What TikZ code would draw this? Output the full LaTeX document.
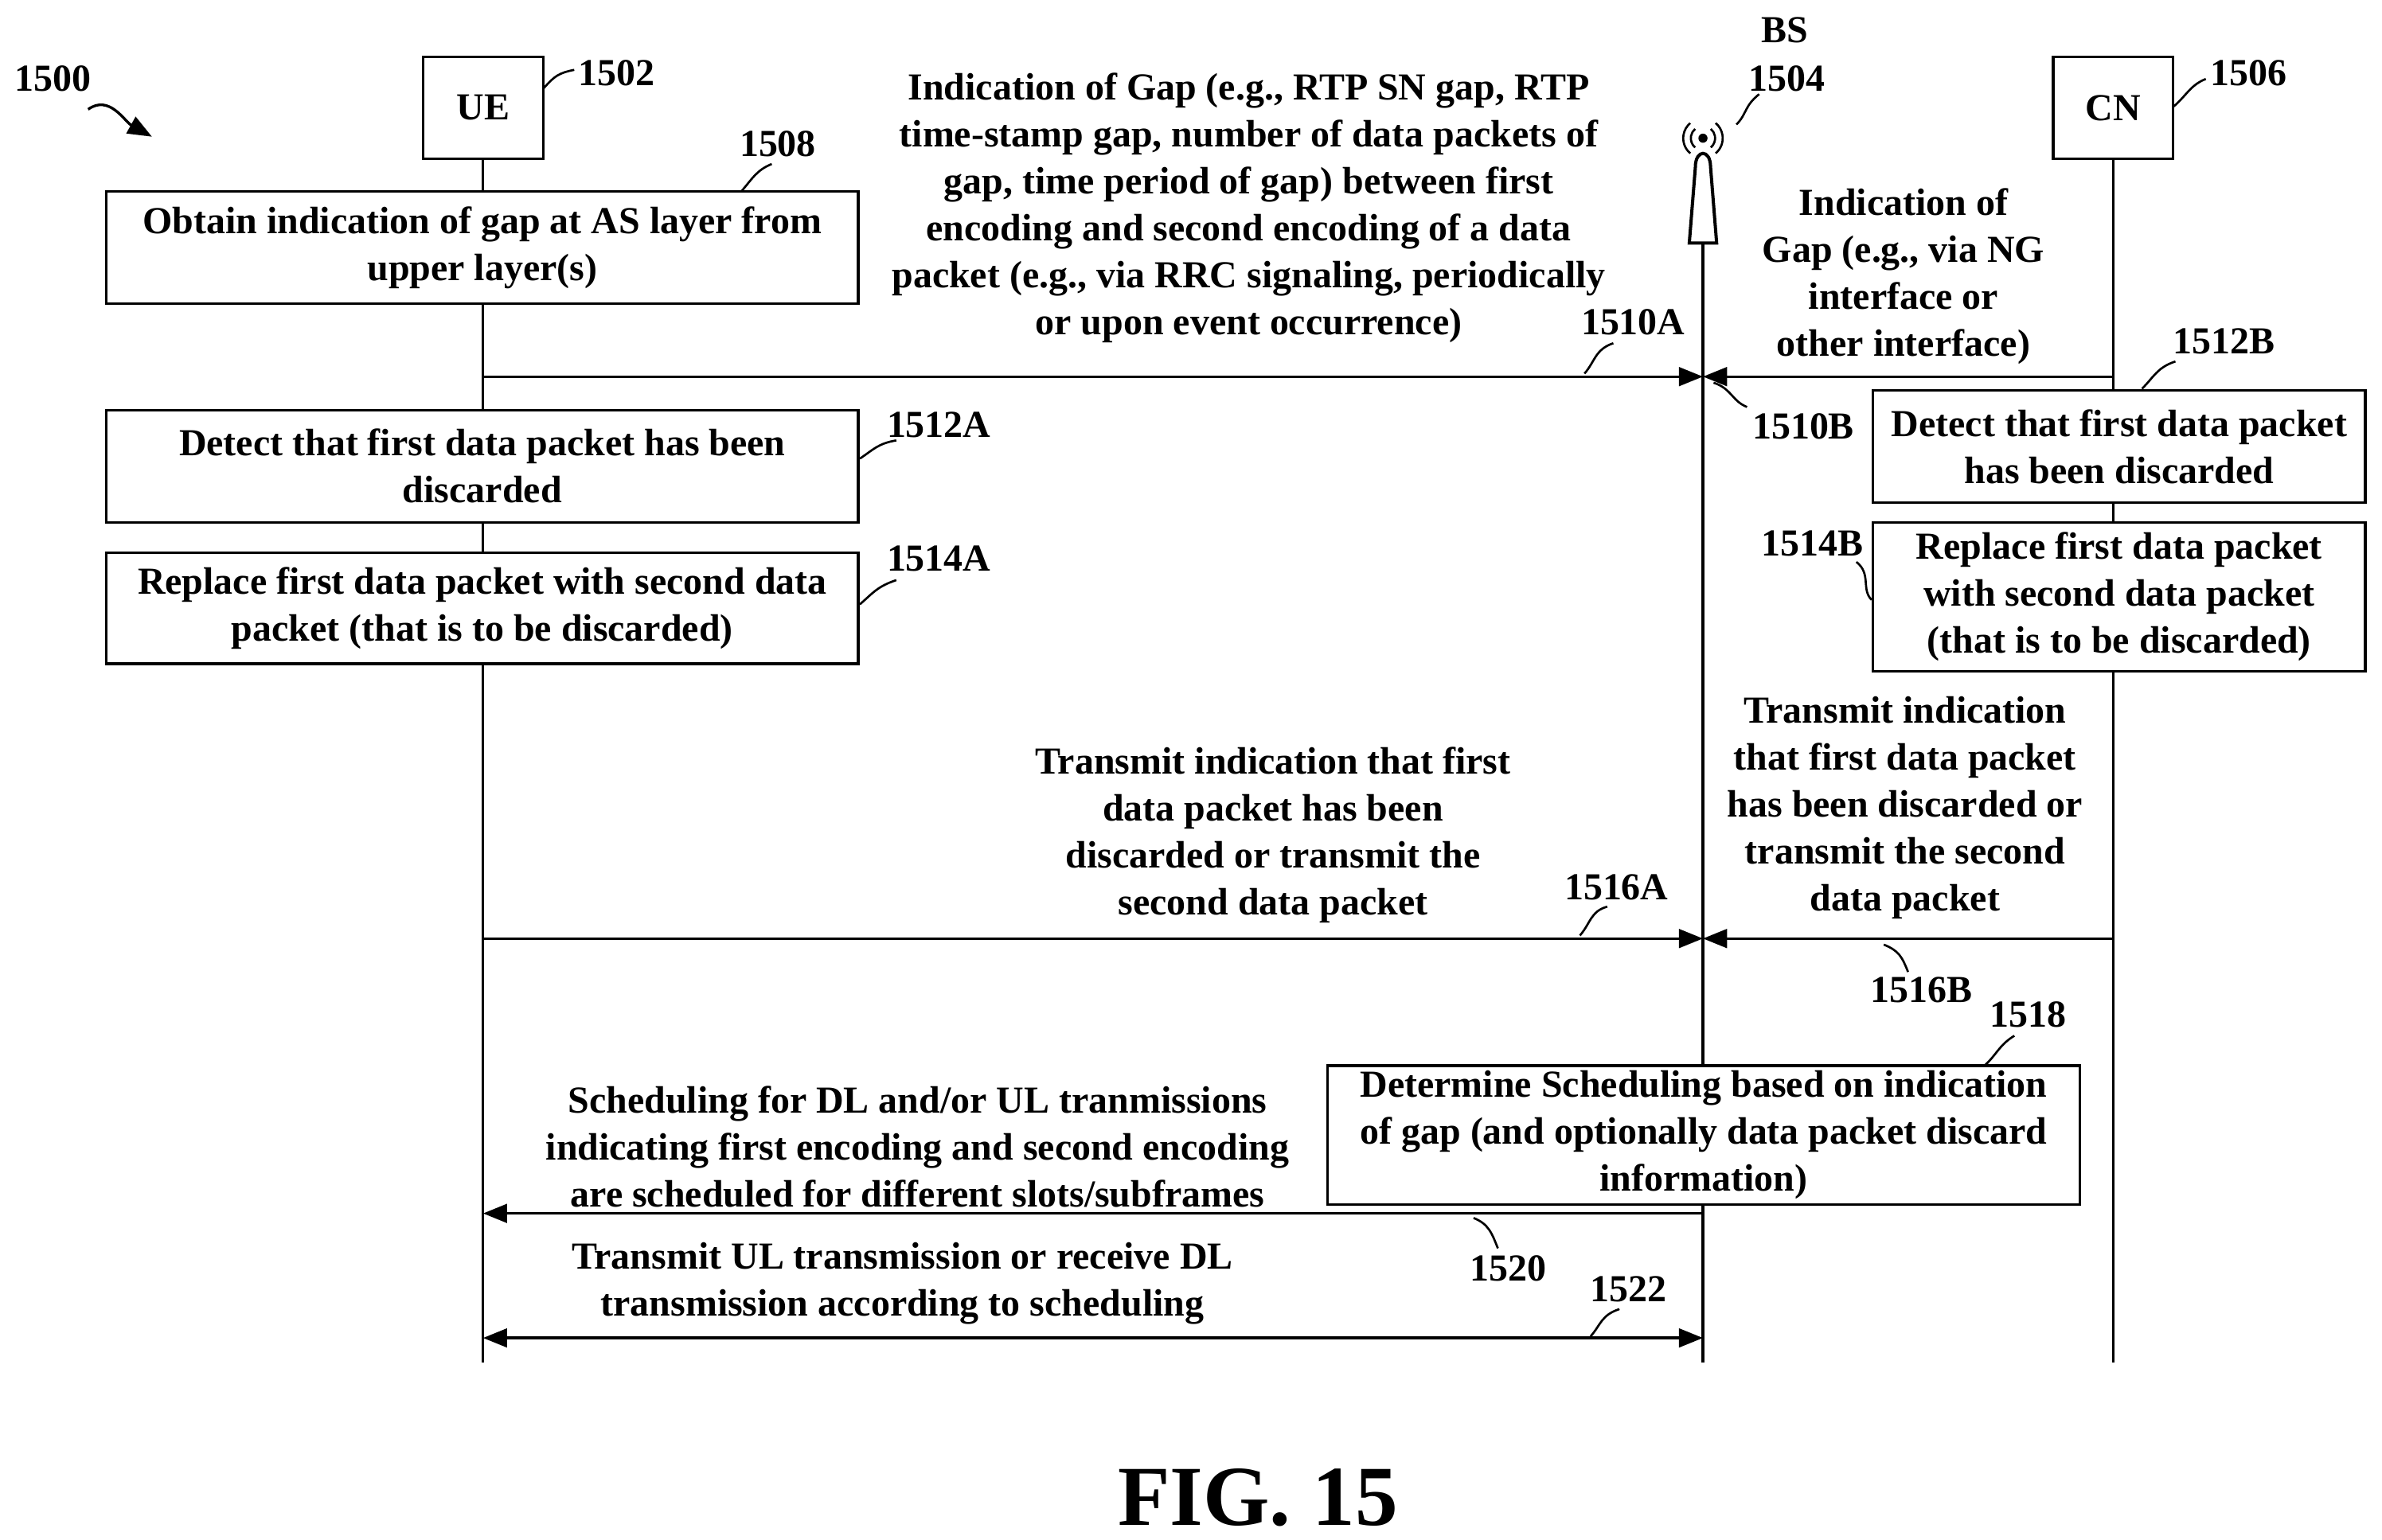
\documentclass[tikz,border=0pt]{standalone}
\usepackage{fontspec}
\setmainfont{Liberation Serif}
\usetikzlibrary{arrows.meta}
\begin{document}
\begin{tikzpicture}[x=0.02cm,y=-0.02cm,>={Triangle[length=9pt,width=7pt]},
  font=\bfseries\fontsize{14.3}{17.6}\selectfont,
  box/.style={draw,line width=1pt,align=center,inner sep=2pt},
  txt/.style={align=center,inner sep=0pt},
  msg/.style={line width=1pt},
  life/.style={line width=1pt},
  lbl/.style={inner sep=1pt}]
\useasboundingbox (0,0) rectangle (1568,1014);
% entities
\node[box,minimum width=79*0.02cm,minimum height=67*0.02cm] (ue) at (318,71) {UE};
\node[box,minimum width=79*0.02cm,minimum height=67*0.02cm] (cn) at (1391,71) {CN};
\coordinate (bs) at (1121,160);
\draw[line width=1.2pt] (1112,160) -- (1116,110) .. controls (1116,98) and (1126,98) .. (1126,110) -- (1130,160) -- cycle;
\fill (1121,91) circle (3);
\foreach \r in {8,13} {
  \draw[line width=0.8pt] (1121,91) ++(130:\r) arc (130:230:\r);
  \draw[line width=0.8pt] (1121,91) ++(50:\r) arc (50:-50:\r);
}
\node[lbl] (bsname) at (1175,20) {BS};
\node[lbl] (nbs) at (1176,52) {1504};
\node[lbl] (nue) at (406,48) {1502};
\node[lbl] (ncn) at (1480,48) {1506};
\node[lbl] (nfig) at (35,52) {1500};
\draw[line width=0.8pt] (1143,82) .. controls (1150,75) and (1148,70) .. (1158,62);
\draw[line width=0.8pt] (358,58) .. controls (365,50) and (368,48) .. (378,46);
\draw[line width=0.8pt] (1431,70) .. controls (1440,62) and (1442,56) .. (1452,52);
\draw[line width=1pt,->] (58,72) .. controls (72,62) and (82,80) .. (100,90);
% lifelines
\coordinate (uebot) at (318,897);
\coordinate (bsbot) at (1121,897);
\coordinate (cnbot) at (1391,897);
\draw[life] (ue.south) -- (uebot);
\draw[life] (bs) -- (bsbot);
\draw[life] (cn.south) -- (cnbot);
% boxes
\node[box,fill=white,minimum width=495*0.02cm,minimum height=74*0.02cm] (b1508) at (317.5,163) {Obtain indication of gap at AS layer from\\upper layer(s)};
\node[box,fill=white,minimum width=495*0.02cm,minimum height=74*0.02cm] (b1512a) at (317.5,307) {Detect that first data packet has been\\discarded};
\node[box,fill=white,minimum width=495*0.02cm,minimum height=73*0.02cm] (b1514a) at (317.5,400.5) {Replace first data packet with second data\\packet (that is to be discarded)};
\node[box,fill=white,minimum width=324*0.02cm,minimum height=74*0.02cm] (b1512b) at (1395,294) {Detect that first data packet\\has been discarded};
\node[box,fill=white,minimum width=324*0.02cm,minimum height=98*0.02cm] (b1514b) at (1395,393) {Replace first data packet\\with second data packet\\(that is to be discarded)};
\node[box,fill=white,minimum width=495*0.02cm,minimum height=89*0.02cm] (b1518) at (1121.5,747.5) {Determine Scheduling based on indication\\of gap (and optionally data packet discard\\information)};
% messages
\coordinate (a1) at (318,248); \coordinate (a2) at (1121,248); \coordinate (a3) at (1391,248);
\draw[msg,->] (a1) -- (a2);
\draw[msg,->] (a3) -- (a2);
\node[txt] (t1510a) at (822,137) {Indication of Gap (e.g., RTP SN gap, RTP\\time-stamp gap, number of data packets of\\gap, time period of gap) between first\\encoding and second encoding of a data\\packet (e.g., via RRC signaling, periodically\\or upon event occurrence)};
\node[txt] (t1510b) at (1253,182) {Indication of\\Gap (e.g., via NG\\interface or\\other interface)};
\coordinate (c1) at (318,618); \coordinate (c2) at (1121,618); \coordinate (c3) at (1391,618);
\draw[msg,->] (c1) -- (c2);
\draw[msg,->] (c3) -- (c2);
\node[txt] (t1516a) at (838,550) {Transmit indication that first\\data packet has been\\discarded or transmit the\\second data packet};
\node[txt] (t1516b) at (1254,532) {Transmit indication\\that first data packet\\has been discarded or\\transmit the second\\data packet};
\coordinate (d1) at (1121,799); \coordinate (d2) at (318,799);
\draw[msg,->] (d1) -- (d2);
\node[txt] (t1520) at (604,755) {Scheduling for DL and/or UL tranmissions\\indicating first encoding and second encoding\\are scheduled for different slots/subframes};
\coordinate (e1) at (318,881); \coordinate (e2) at (1121,881);
\draw[msg,<->] (e1) -- (e2);
\node[txt] (t1522) at (594,845) {Transmit UL transmission or receive DL\\transmission according to scheduling};
% reference numerals
\node[lbl] (n1508) at (512,95) {1508};
\node[lbl] (n1510a) at (1075,212) {1510A};
\node[lbl] (n1510b) at (1187,281) {1510B};
\node[lbl] (n1512a) at (618,280) {1512A};
\node[lbl] (n1512b) at (1464,225) {1512B};
\node[lbl] (n1514a) at (618,368) {1514A};
\node[lbl] (n1514b) at (1193,358) {1514B};
\node[lbl] (n1516a) at (1064,584) {1516A};
\node[lbl] (n1516b) at (1265,652) {1516B};
\node[lbl] (n1518) at (1335,668) {1518};
\node[lbl] (n1520) at (993,835) {1520};
\node[lbl] (n1522) at (1072,849) {1522};
\draw[line width=0.8pt] (488,126) .. controls (495,118) and (498,112) .. (508,108);
\draw[line width=0.8pt] (1043,246) .. controls (1050,238) and (1050,230) .. (1062,226);
\draw[line width=0.8pt] (1128,252) .. controls (1140,256) and (1140,264) .. (1150,268);
\draw[line width=0.8pt] (566,302) .. controls (575,296) and (578,292) .. (590,290);
\draw[line width=0.8pt] (1410,256) .. controls (1418,248) and (1420,242) .. (1432,238);
\draw[line width=0.8pt] (566,398) .. controls (575,390) and (578,386) .. (590,382);
\draw[line width=0.8pt] (1232,395) .. controls (1225,388) and (1232,378) .. (1222,370);
\draw[line width=0.8pt] (1040,616) .. controls (1047,608) and (1047,600) .. (1058,597);
\draw[line width=0.8pt] (1240,622) .. controls (1250,626) and (1252,630) .. (1256,640);
\draw[line width=0.8pt] (1306,702) .. controls (1314,695) and (1316,688) .. (1326,682);
\draw[line width=0.8pt] (970,802) .. controls (980,806) and (982,812) .. (986,822);
\draw[line width=0.8pt] (1047,880) .. controls (1054,872) and (1054,866) .. (1066,862);
\node[lbl,font=\bfseries\fontsize{32}{36}\selectfont] (fig) at (828,986) {FIG. 15};
\end{tikzpicture}
\end{document}
